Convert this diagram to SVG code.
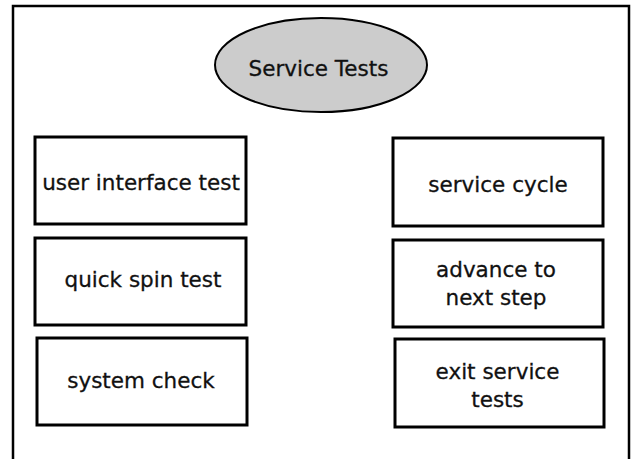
<svg xmlns="http://www.w3.org/2000/svg" width="631" height="459" viewBox="0 0 631 459">
<style>
.box{fill:#ffffff;stroke:#000000;stroke-width:3}
.t{font-family:"DejaVu Sans",Verdana,sans-serif;font-size:21.5px;fill:#111111;stroke:#111111;stroke-width:0.3;text-anchor:middle}
</style>
<rect width="631" height="459" fill="#ffffff"/>
<path d="M13,459 V6 H629 V459" fill="none" stroke="#000000" stroke-width="2.5"/>
<g id="connectors"></g>
<g id="service-tests">
<ellipse cx="321" cy="65" rx="106" ry="47" fill="#cccccc" stroke="#000000" stroke-width="2"/>
<text class="t" x="318.5" y="76" style="font-size:21.5px">Service Tests</text>
</g>
<g id="user-interface-test">
<rect class="box" x="35" y="137" width="211" height="87"/>
<text class="t" x="141" y="190">user interface test</text>
</g>
<g id="quick-spin-test">
<rect class="box" x="35" y="238" width="211" height="87"/>
<text class="t" x="143" y="287">quick spin test</text>
</g>
<g id="system-check">
<rect class="box" x="37" y="338" width="210" height="87"/>
<text class="t" x="141" y="388">system check</text>
</g>
<g id="service-cycle">
<rect class="box" x="393" y="138" width="210" height="88"/>
<text class="t" x="498" y="192">service cycle</text>
</g>
<g id="advance-to-next-step">
<rect class="box" x="393" y="240" width="210" height="87"/>
<text class="t" x="496" y="277">advance to</text>
<text class="t" x="496" y="305">next step</text>
</g>
<g id="exit-service-tests">
<rect class="box" x="395" y="339" width="209" height="88"/>
<text class="t" x="497.5" y="379">exit service</text>
<text class="t" x="497.5" y="407">tests</text>
</g>
</svg>
